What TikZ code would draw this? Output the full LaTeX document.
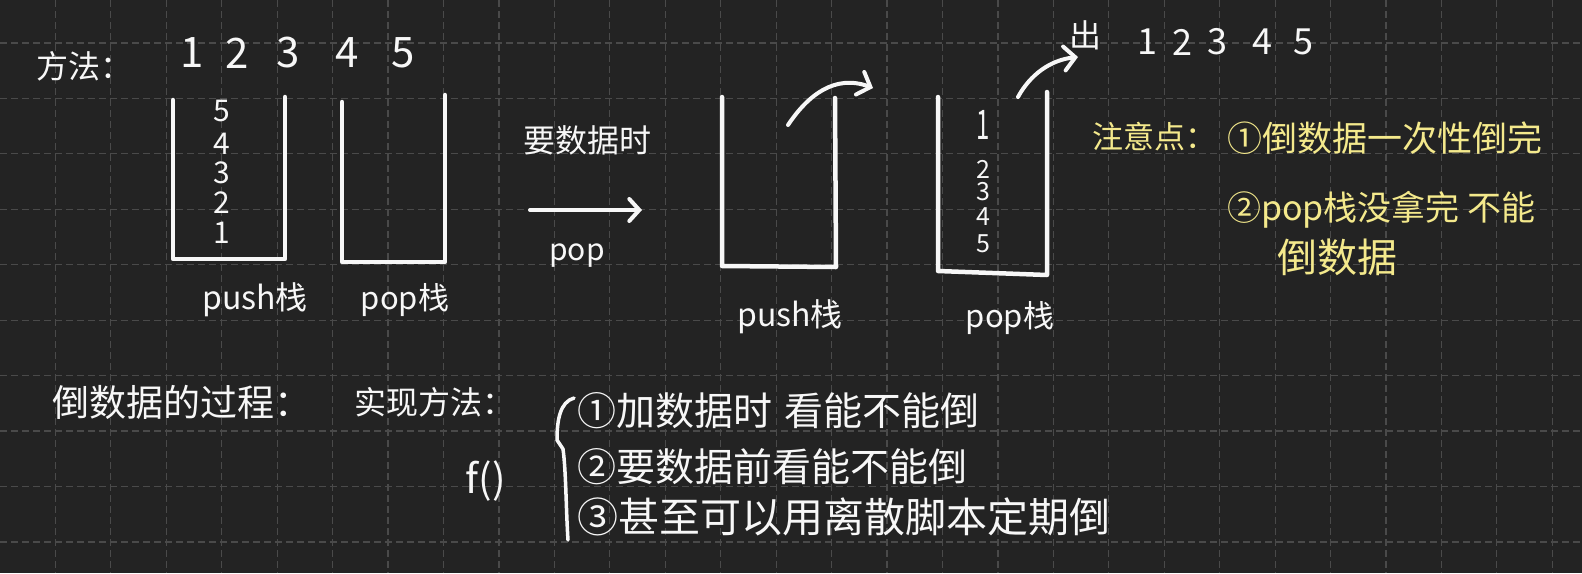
\documentclass[tikz,border=0pt]{standalone}
\usepackage{fontspec}
\setmainfont{Noto Sans CJK SC}
\usetikzlibrary{arrows.meta}
\definecolor{bg}{HTML}{232323}
\definecolor{gridc}{HTML}{4A4A4A}
\definecolor{ink}{HTML}{F7F7F7}
\definecolor{hl}{HTML}{F4E98C}
\newcommand\myfs[1]{\fontsize{#1}{#1}\selectfont}
\begin{document}
\begin{tikzpicture}[x=1pt,y=-1pt,
  txt/.style={text=ink,inner sep=0pt,anchor=center},
  ltxt/.style={text=ink,inner sep=0pt,anchor=west},
  ytxt/.style={text=hl,inner sep=0pt,anchor=west},
  stackbox/.style={draw=ink,line width=4.5pt,line cap=round,line join=round},
  arr/.style={draw=ink,line width=4pt,line cap=round,-{Straight Barb[length=11pt,width=24pt,line cap=round]}},
  gridline/.style={draw=gridc,line width=1.2pt,dash pattern=on 7pt off 4pt}]
\fill[bg] (0,0) rectangle (1582,573);
\useasboundingbox (0,0) rectangle (1582,573);
\foreach \k in {1,...,28} \draw[gridline] (55.44*\k,0) -- (55.44*\k,573);
\foreach \k in {0,...,9} \draw[gridline] (0,43+55.44*\k) -- (1582,43+55.44*\k);

% top-left
\node[ltxt,font=\myfs{32}] (fangfa) at (36,66) {方法：};
\foreach \d/\x in {1/192,2/237,3/288,4/347,5/403}
  \node[txt,font=\myfs{42}] (t\d) at (\x,53) {\d};

% stack 1 (push)
\draw[stackbox] (173,100) -- (173,259) -- (285,259) -- (285,97);
\foreach \d/\y in {5/111,4/144,3/173,2/203,1/233}
  \node[txt,font=\myfs{30}] (sa\d) at (222,\y) {\d};
\node[txt,font=\myfs{32}] (pushA) at (255,300) {push栈};

% stack 2 (pop)
\draw[stackbox] (342,102) -- (342,262) -- (445,262) -- (445,95);
\node[txt,font=\myfs{31}] (popA) at (405,300) {pop栈};

% middle arrow
\node[txt,font=\myfs{32}] (yao) at (587,140) {要数据时};
\coordinate (m1) at (530,210);
\coordinate (m2) at (642,210);
\draw[arr,-{Straight Barb[length=10pt,width=22pt,line cap=round]}] (m1) -- (m2);
\node[txt,font=\myfs{30}] (popm) at (577,256) {pop};

% stack 3 (push, empty)
\draw[stackbox] (722,97) -- (722,266) -- (836,267) -- (835,98);
\node[txt,font=\myfs{32}] (pushB) at (790,317) {push栈};
\coordinate (c1s) at (788,125);
\coordinate (c1e) at (873,88);
\draw[arr] (c1s) .. controls (808,95) and (835,74) .. (c1e);

% stack 4 (pop, filled)
\draw[stackbox] (938,97) -- (938,271) -- (1047,275) -- (1047,92);
\node[txt,font=\myfs{24},yscale=1.7] (sb1) at (983,125) {1};
\foreach \d/\y in {2/169,3/192,4/217,5/244}
  \node[txt,font=\myfs{25}] (sb\d) at (983,\y) {\d};
\node[txt,font=\myfs{31}] (popB) at (1010,318) {pop栈};
\coordinate (c2s) at (1018,97);
\coordinate (c2e) at (1078,57);
\draw[arr] (c2s) .. controls (1030,75) and (1050,60) .. (c2e);

% out
\node[txt,font=\myfs{32}] (chu) at (1085,35) {出};
\foreach \d/\x in {1/1147,2/1182,3/1217,4/1262,5/1303}
  \node[txt,font=\myfs{36}] (o\d) at (\x,42) {\d};

% notes (yellow)
\node[ytxt,font=\myfs{31}] (zhuyi) at (1092,137) {注意点：};
\node[ytxt,font=\myfs{35}] (n1) at (1227,138) {①倒数据一次性倒完};
\node[ytxt,font=\myfs{34}] (n2) at (1227,210) {②pop栈没拿完\hspace{8pt}不能};
\node[ytxt,font=\myfs{40}] (n3) at (1277,257) {倒数据};

% bottom
\node[ltxt,font=\myfs{37}] (guocheng) at (52,402) {倒数据的过程：};
\node[ltxt,font=\myfs{32}] (shixian) at (354,402) {实现方法：};
\node[txt,font=\myfs{40}] (f) at (486,481) {f()};
\draw[draw=ink,line width=3.5pt,line cap=round,line join=round]
  (574,398) .. controls (560,402) and (557,420) .. (557,440) -- (563,449)
  .. controls (566,470) and (566,510) .. (568,540);
\node[ltxt,font=\myfs{39}] (l1) at (577,411) {①加数据时\hspace{12pt}看能不能倒};
\node[ltxt,font=\myfs{39}] (l2) at (577,467) {②要数据前看能不能倒};
\node[ltxt,font=\myfs{41}] (l3) at (577,517) {③甚至可以用离散脚本定期倒};
\end{tikzpicture}
\end{document}
